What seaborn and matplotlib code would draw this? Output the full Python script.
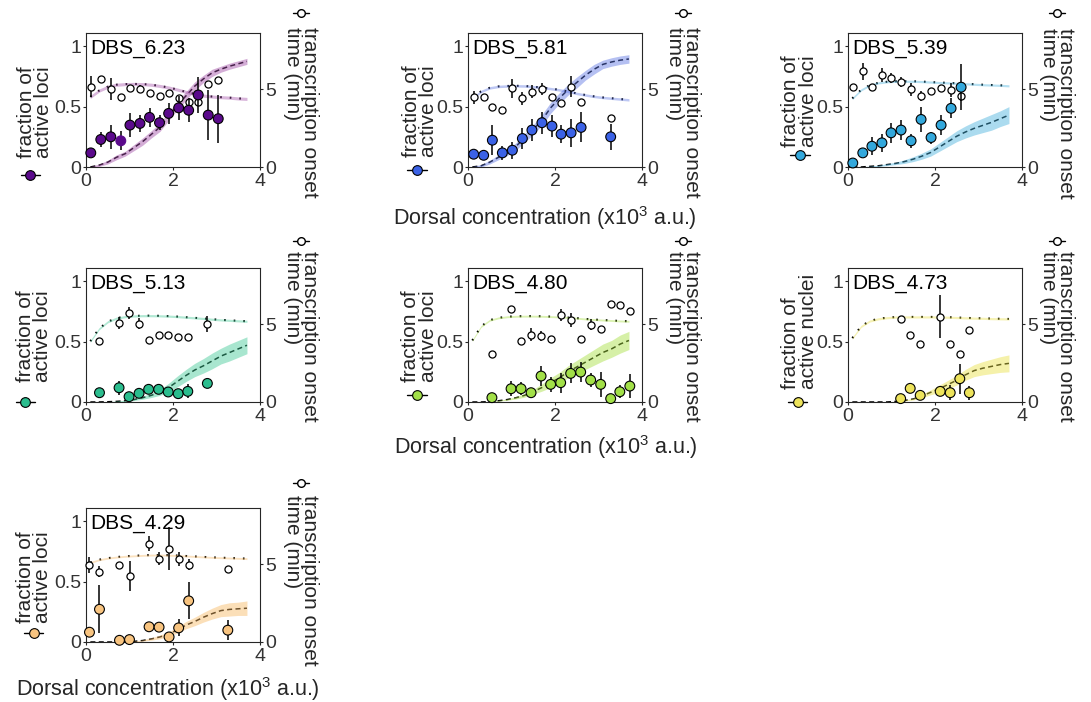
import matplotlib
matplotlib.use("Agg")
import matplotlib.pyplot as plt
import seaborn as sns

# ---------------- values ----------------
PANEL_NAMES = ["DBS_6.23", "DBS_5.81", "DBS_5.39", "DBS_5.13",
               "DBS_4.80", "DBS_4.73", "DBS_4.29"]
LEFT_LABELS = ["fraction of\nactive loci"] * 5 + ["fraction of\nactive nuclei",
                                                  "fraction of\nactive loci"]
RIGHT_LABEL = "transcription onset\ntime (min)"
X_LABEL = "Dorsal concentration (x10$^3$ a.u.)"

MARKER_COLORS = ["#5b0a8c", "#3b62e6", "#33a8dc", "#2bbd8e",
                 "#a2e048", "#ede35b", "#f8c480"]
BAND_COLORS = ["#a04aa6", "#5b74e3", "#45b0dc", "#3fc995",
               "#a5df3c", "#e9e044", "#f7b862"]

# measured points (one list per panel)
DORSAL = [
    [0.11, 0.34, 0.57, 0.80, 1.01, 1.24, 1.46, 1.69, 1.90, 2.13, 2.36, 2.58, 2.81, 3.04],
    [0.13, 0.36, 0.56, 0.79, 1.02, 1.25, 1.47, 1.70, 1.93, 2.14, 2.37, 2.60, 3.28],
    [0.11, 0.34, 0.55, 0.78, 0.99, 1.22, 1.45, 1.68, 1.91, 2.14, 2.37, 2.60],
    [0.31, 0.76, 0.99, 1.22, 1.44, 1.67, 1.89, 2.12, 2.34, 2.79],
    [0.55, 0.99, 1.22, 1.45, 1.68, 1.90, 2.13, 2.36, 2.59, 2.82, 3.05, 3.28, 3.49, 3.72],
    [1.21, 1.43, 1.66, 2.12, 2.35, 2.57, 2.79],
    [0.08, 0.31, 0.77, 1.00, 1.45, 1.68, 1.91, 2.13, 2.36, 3.26],
]
FRAC = [
    [0.117, 0.228, 0.25, 0.217, 0.347, 0.361, 0.411, 0.367, 0.444, 0.49, 0.47, 0.597, 0.43, 0.40],
    [0.106, 0.097, 0.222, 0.117, 0.139, 0.236, 0.306, 0.367, 0.339, 0.272, 0.283, 0.328, 0.25],
    [0.033, 0.117, 0.172, 0.2, 0.283, 0.306, 0.217, 0.394, 0.244, 0.347, 0.486, 0.661],
    [0.077, 0.118, 0.044, 0.072, 0.105, 0.105, 0.083, 0.069, 0.088, 0.154],
    [0.036, 0.11, 0.11, 0.077, 0.215, 0.146, 0.16, 0.237, 0.248, 0.182, 0.146, 0.028, 0.085, 0.132],
    [0.028, 0.113, 0.055, 0.088, 0.077, 0.193, 0.077],
    [0.081, 0.271, 0.014, 0.02, 0.126, 0.123, 0.042, 0.117, 0.341, 0.098],
]
FRAC_ERR = [
    [0.02, 0.06, 0.10, 0.08, 0.10, 0.07, 0.08, 0.06, 0.09, 0.10, 0.10, 0.15, 0.21, 0.20],
    [0.02, 0.02, 0.125, 0.056, 0.07, 0.083, 0.09, 0.09, 0.09, 0.076, 0.118, 0.125, 0.11],
    [0.01, 0.035, 0.076, 0.076, 0.083, 0.083, 0.056, 0.104, 0.05, 0.083, 0.083, 0.19],
    [0.02, 0.056, 0.01, 0.02, 0.03, 0.042, 0.02, 0.02, 0.058, 0.02],
    [0.01, 0.063, 0.056, 0.02, 0.083, 0.063, 0.083, 0.083, 0.083, 0.056, 0.104, 0.01, 0.056, 0.097],
    [0.01, 0.02, 0.02, 0.02, 0.063, 0.125, 0.058],
    [0.02, 0.2, 0.01, 0.01, 0.03, 0.03, 0.01, 0.07, 0.154, 0.084],
]
ONSET = [
    [5.16, 5.63, 4.99, 4.52, 5.05, 5.01, 4.73, 4.56, 4.73, 4.41, 4.15, 4.15, 5.31, 5.59],
    [4.47, 4.47, 3.87, 3.66, 5.05, 4.41, 4.84, 4.99, 4.52, 4.13, 5.16, 4.15, 3.12],
    [5.16, 6.13, 5.12, 5.91, 5.7, 5.48, 4.99, 4.58, 4.9, 5.05, 4.95, 4.56],
    [3.9, 5.07, 5.71, 5.01, 3.97, 4.33, 4.33, 4.18, 4.18, 5.01],
    [3.09, 5.97, 3.94, 4.33, 4.22, 4.07, 5.61, 5.25, 4.05, 4.97, 4.69, 6.31, 6.25, 5.82],
    [5.35, 4.33, 3.75, 5.46, 3.75, 3.09, 4.65],
    [4.96, 4.52, 4.96, 4.26, 6.32, 5.35, 6.0, 5.35, 4.96, 4.7],
]
ONSET_ERR = [
    [0.65, 0.2, 0.7, 0.1, 0.15, 0.27, 0.1, 0.1, 0.1, 0.15, 0.2, 0.2, 0.2, 0.1],
    [0.43, 0.2, 0.1, 0.1, 0.6, 0.43, 0.43, 0.38, 0.1, 0.1, 0.65, 0.1, 0.1],
    [0.1, 0.54, 0.1, 0.43, 0.32, 0.32, 0.43, 0.32, 0.1, 0.1, 0.43, 0.3],
    [0.1, 0.38, 0.38, 0.35, 0.1, 0.1, 0.1, 0.1, 0.1, 0.54],
    [0.1, 0.1, 0.1, 0.43, 0.33, 0.1, 0.38, 0.43, 0.1, 0.33, 0.1, 0.1, 0.1, 0.1],
    [0.1, 0.1, 0.1, 1.38, 0.1, 0.1, 0.1],
    [0.51, 0.34, 0.1, 0.97, 0.51, 0.4, 1.36, 0.45, 0.34, 0.1],
]
# point drawn without the black outline (panel, index)
EDGELESS = [(0, 3)]

# model curves
MODEL_X = [0.1, 0.3, 0.5, 0.7, 0.9, 1.1, 1.3, 1.5, 1.7, 1.9,
           2.1, 2.3, 2.5, 2.7, 2.9, 3.1, 3.3, 3.5, 3.7]
MODEL_FRAC = [
    [0.0, 0.015, 0.04, 0.08, 0.11, 0.16, 0.21, 0.27, 0.33, 0.42, 0.51, 0.59, 0.67, 0.73, 0.78, 0.81, 0.835, 0.855, 0.875],
    [0.0, 0.01, 0.04, 0.08, 0.12, 0.17, 0.24, 0.31, 0.39, 0.49, 0.57, 0.64, 0.70, 0.76, 0.81, 0.85, 0.87, 0.885, 0.895],
    [0.0, 0.0, 0.005, 0.01, 0.02, 0.03, 0.045, 0.065, 0.09, 0.12, 0.165, 0.21, 0.255, 0.29, 0.32, 0.345, 0.37, 0.40, 0.43],
    [0.0, 0.0, 0.002, 0.005, 0.01, 0.02, 0.035, 0.055, 0.08, 0.12, 0.17, 0.22, 0.265, 0.30, 0.34, 0.38, 0.41, 0.44, 0.47],
    [0.0, 0.0, 0.003, 0.01, 0.02, 0.035, 0.055, 0.085, 0.12, 0.16, 0.20, 0.25, 0.29, 0.33, 0.37, 0.41, 0.44, 0.48, 0.51],
    [0.0, 0.0, 0.0, 0.0, 0.0, 0.005, 0.012, 0.025, 0.05, 0.08, 0.11, 0.145, 0.18, 0.225, 0.26, 0.28, 0.295, 0.31, 0.32],
    [0.0, 0.0, 0.0, 0.0, 0.0, 0.005, 0.012, 0.025, 0.042, 0.065, 0.10, 0.14, 0.17, 0.205, 0.235, 0.26, 0.27, 0.275, 0.28],
]
MODEL_FRAC_W = [
    [0.005, 0.01, 0.015, 0.02, 0.02, 0.025, 0.03, 0.03, 0.035, 0.035, 0.035, 0.035, 0.035, 0.03, 0.03, 0.025, 0.025, 0.025, 0.025],
    [0.005, 0.01, 0.015, 0.02, 0.025, 0.03, 0.035, 0.04, 0.045, 0.045, 0.045, 0.045, 0.045, 0.04, 0.04, 0.035, 0.035, 0.035, 0.035],
    [0.0, 0.0, 0.003, 0.005, 0.008, 0.01, 0.015, 0.02, 0.025, 0.03, 0.035, 0.04, 0.045, 0.05, 0.055, 0.06, 0.065, 0.065, 0.07],
    [0.0, 0.0, 0.0, 0.003, 0.005, 0.008, 0.012, 0.018, 0.025, 0.035, 0.045, 0.05, 0.055, 0.06, 0.065, 0.065, 0.07, 0.07, 0.07],
    [0.0, 0.0, 0.0, 0.003, 0.005, 0.01, 0.015, 0.02, 0.03, 0.04, 0.045, 0.05, 0.055, 0.06, 0.065, 0.07, 0.07, 0.075, 0.075],
    [0.0, 0.0, 0.0, 0.0, 0.0, 0.0, 0.003, 0.008, 0.015, 0.02, 0.03, 0.035, 0.04, 0.045, 0.05, 0.055, 0.06, 0.065, 0.07],
    [0.0, 0.0, 0.0, 0.0, 0.0, 0.002, 0.005, 0.01, 0.015, 0.02, 0.025, 0.03, 0.035, 0.04, 0.045, 0.05, 0.055, 0.055, 0.06],
]
MODEL_ONSET = [
    [4.5, 4.9, 5.15, 5.28, 5.32, 5.33, 5.32, 5.28, 5.2, 5.1, 4.97, 4.82, 4.68, 4.58, 4.52, 4.48, 4.45, 4.4, 4.37],
    [4.4, 4.85, 5.08, 5.17, 5.2, 5.21, 5.2, 5.15, 5.1, 5.03, 4.95, 4.85, 4.72, 4.62, 4.53, 4.46, 4.41, 4.36, 4.31],
    [4.4, 4.95, 5.25, 5.4, 5.47, 5.5, 5.5, 5.5, 5.48, 5.45, 5.42, 5.4, 5.37, 5.34, 5.31, 5.28, 5.26, 5.24, 5.21],
    [3.9, 4.7, 5.15, 5.38, 5.48, 5.52, 5.54, 5.54, 5.53, 5.51, 5.48, 5.44, 5.4, 5.36, 5.31, 5.27, 5.24, 5.21, 5.18],
    [3.95, 4.85, 5.25, 5.4, 5.47, 5.5, 5.51, 5.51, 5.5, 5.48, 5.46, 5.42, 5.38, 5.33, 5.29, 5.26, 5.23, 5.2, 5.18],
    [4.1, 4.85, 5.2, 5.34, 5.41, 5.45, 5.46, 5.46, 5.46, 5.46, 5.45, 5.44, 5.42, 5.4, 5.38, 5.37, 5.35, 5.34, 5.33],
    [5.1, 5.28, 5.38, 5.45, 5.5, 5.53, 5.56, 5.58, 5.58, 5.57, 5.55, 5.52, 5.49, 5.46, 5.43, 5.41, 5.39, 5.37, 5.35],
]
MODEL_ONSET_W = [0.1, 0.08, 0.07, 0.07, 0.06, 0.07, 0.06]

X_TICKS = [0, 2, 4]
LEFT_TICKS = [0, 0.5, 1]
LEFT_TICKLABELS = ["0", "0.5", "1"]
RIGHT_TICKS = [0, 5]

# ---------------- layout (pixels / axes fractions) ----------------
W_PX, H_PX = 1091, 702
COL_LEFT = [86, 468, 848]
ROW_TOP = [33, 268, 508]
AX_W, AX_H = 174, 134
LEFT_LAB_X = [-0.293, -0.276, -0.28, -0.30, -0.28, -0.28, -0.30]
LEFT_LAB_BOTTOM = [0.067, 0.075, 0.15, 0.15, 0.15, 0.097, 0.14]
LEFT_GLYPH = [(-0.32, -0.06), (-0.293, -0.02), (-0.276, 0.09), (-0.35, 0.0),
              (-0.293, 0.05), (-0.29, 0.0), (-0.30, 0.065)]
RIGHT_LAB_X = [1.236, 1.236, 1.20, 1.236, 1.236, 1.20, 1.236]
RIGHT_LAB_TOP = [1.045, 1.045, 1.04, 1.13, 1.13, 1.13, 1.10]
RIGHT_GLYPH_Y = [1.149, 1.149, 1.149, 1.20, 1.20, 1.20, 1.19]
XLABEL_POS = {1: (0.44, -0.28), 4: (0.448, -0.235), 6: (0.468, -0.25)}

TICK_COLOR = "#333333"
SPINE_COLOR = "#262626"

sns.set_style("white")
plt.rcParams["font.family"] = ["Liberation Sans", "DejaVu Sans"]
plt.rcParams["mathtext.fontset"] = "custom"
plt.rcParams["mathtext.rm"] = "Liberation Sans"
plt.rcParams["mathtext.default"] = "rm"

fig = plt.figure(figsize=(W_PX / 100, H_PX / 100), dpi=100)

for i in range(len(PANEL_NAMES)):
    row, col = divmod(i, 3)
    rect = [COL_LEFT[col] / W_PX, 1 - (ROW_TOP[row] + AX_H) / H_PX,
            AX_W / W_PX, AX_H / H_PX]
    ax = fig.add_axes(rect)      # fraction model (left scale)
    ax2 = ax.twinx()             # onset time (right scale)
    ax3 = ax.twinx()             # measured fraction, on top
    c = MARKER_COLORS[i]
    bc = BAND_COLORS[i]

    # model of fraction active: dashed + band
    lo = [m - w for m, w in zip(MODEL_FRAC[i], MODEL_FRAC_W[i])]
    hi = [m + w for m, w in zip(MODEL_FRAC[i], MODEL_FRAC_W[i])]
    sns.lineplot(x=MODEL_X, y=MODEL_FRAC[i], ax=ax, color="k", lw=1.1,
                 linestyle=(0, (3.3, 2.2)), zorder=1)
    ax.fill_between(MODEL_X, lo, hi, color=bc, alpha=0.45, lw=0, zorder=2)

    # model of onset time: dotted + band
    lo2 = [m - MODEL_ONSET_W[i] for m in MODEL_ONSET[i]]
    hi2 = [m + MODEL_ONSET_W[i] for m in MODEL_ONSET[i]]
    sns.lineplot(x=MODEL_X, y=MODEL_ONSET[i], ax=ax2, color="k", lw=1.5,
                 linestyle=(0, (0.8, 3.8)), zorder=1)
    ax2.fill_between(MODEL_X, lo2, hi2, color=bc, alpha=0.4, lw=0, zorder=2)

    # measured onset: open circles
    ax2.errorbar(DORSAL[i], ONSET[i], yerr=ONSET_ERR[i], fmt="none",
                 ecolor="k", elinewidth=1.1, capsize=0, zorder=3)
    sns.scatterplot(x=DORSAL[i], y=ONSET[i], ax=ax2, color="white",
                    edgecolor="k", linewidth=0.9, s=26, zorder=4,
                    legend=False)

    # measured fraction: filled circles
    edges = ["k"] * len(DORSAL[i])
    for p, k in EDGELESS:
        if p == i:
            edges[k] = c
    ax3.errorbar(DORSAL[i], FRAC[i], yerr=FRAC_ERR[i], fmt="none",
                 ecolor="k", elinewidth=1.1, capsize=0, zorder=3)
    sns.scatterplot(x=DORSAL[i], y=FRAC[i], ax=ax3, color=c,
                    edgecolor=edges, linewidth=0.8, s=50, zorder=4,
                    legend=False)
    for a in (ax2, ax3):
        for coll in a.collections:
            coll.set_clip_on(False)

    # scales and ticks
    for a in (ax, ax3):
        a.set_ylim(0, 1.11)
    ax2.set_ylim(0, 8.6)
    ax.set_xlim(0, 4)
    ax.set_xticks(X_TICKS)
    ax.set_xticklabels([str(t) for t in X_TICKS])
    ax.set_yticks(LEFT_TICKS)
    ax.set_yticklabels(LEFT_TICKLABELS)
    ax2.set_yticks(RIGHT_TICKS)
    ax2.set_yticklabels([str(t) for t in RIGHT_TICKS])
    ax.tick_params(axis="y", direction="out", length=2, width=0.8, pad=1.5,
                   labelsize=14, labelcolor=TICK_COLOR, color=SPINE_COLOR, left=True)
    ax.tick_params(axis="x", direction="out", length=2, width=0.8, pad=2.5,
                   labelsize=14, labelcolor=TICK_COLOR, color=SPINE_COLOR, bottom=True)
    ax2.tick_params(axis="y", direction="out", length=2, width=0.8, pad=1.5,
                    labelsize=14, labelcolor=TICK_COLOR, color=SPINE_COLOR, right=True)
    ax3.yaxis.set_visible(False)
    for a in (ax2, ax3):
        for s in a.spines.values():
            s.set_visible(False)
    for s in ax.spines.values():
        s.set_visible(True)
        s.set_color(SPINE_COLOR)
        s.set_linewidth(0.8)
    for a in (ax, ax2, ax3):
        a.set_xlabel("")
        a.set_ylabel("")

    # panel name
    ax.text(0.027, 0.885, PANEL_NAMES[i], transform=ax.transAxes,
            fontsize=15, ha="left", va="center", color="k", zorder=10)

    # left label with its marker glyph
    ax.text(LEFT_LAB_X[i], LEFT_LAB_BOTTOM[i], LEFT_LABELS[i],
            transform=ax.transAxes, rotation=90, ha="center", va="bottom",
            multialignment="left", fontsize=15, linespacing=0.9)
    gx, gy = LEFT_GLYPH[i]
    ax.plot([gx - 0.055, gx + 0.055], [gy, gy], transform=ax.transAxes,
            color="k", lw=1, clip_on=False)
    ax.plot([gx], [gy], transform=ax.transAxes, marker="o", ms=7, mfc=c,
            mec="k", mew=0.8, clip_on=False)

    # right label with its marker glyph
    ax2.text(RIGHT_LAB_X[i], RIGHT_LAB_TOP[i], RIGHT_LABEL,
             transform=ax.transAxes, rotation=270, ha="center", va="top",
             multialignment="left", fontsize=15, linespacing=0.9)
    ry = RIGHT_GLYPH_Y[i]
    rx = RIGHT_LAB_X[i]
    ax.plot([rx - 0.045, rx + 0.045], [ry, ry], transform=ax.transAxes,
            color="k", lw=1, clip_on=False)
    ax.plot([rx], [ry], transform=ax.transAxes, marker="o", ms=5.5,
            mfc="white", mec="k", mew=1, clip_on=False)

    if i in XLABEL_POS:
        ax.set_xlabel(X_LABEL, fontsize=15.5)
        ax.xaxis.set_label_coords(*XLABEL_POS[i])

fig.savefig("out.png", dpi=100)
